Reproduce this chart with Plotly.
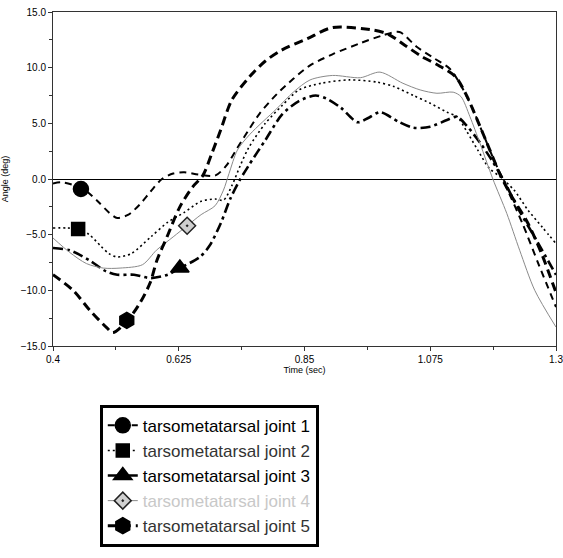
import plotly.graph_objects as go

# ---------------- data ----------------
t1 = [0.40, 0.415, 0.44, 0.46, 0.48, 0.50, 0.515, 0.535, 0.555, 0.575, 0.595, 0.615, 0.635, 0.66, 0.69,
      0.71, 0.73, 0.75, 0.77, 0.80, 0.83, 0.86, 0.90, 0.95, 0.99, 1.02, 1.05, 1.08, 1.11, 1.13, 1.15,
      1.17, 1.19, 1.21, 1.24, 1.27, 1.30]
y1 = [-0.4, -0.3, -0.6, -1.1, -2.0, -3.0, -3.5, -3.2, -2.3, -1.1, 0.0, 0.5, 0.6, 0.4, 0.3,
      1.2, 2.8, 4.4, 5.9, 7.6, 9.0, 10.2, 11.2, 12.2, 12.9, 13.2, 11.9, 10.9, 9.9, 8.4, 6.4,
      4.0, 1.6, -0.6, -4.0, -7.8, -11.5]

t2 = [0.40, 0.425, 0.445, 0.465, 0.485, 0.50, 0.515, 0.54, 0.575, 0.605, 0.635, 0.665, 0.69, 0.705,
      0.72, 0.735, 0.75, 0.78, 0.81, 0.84, 0.88, 0.93, 0.98, 1.01, 1.045, 1.075, 1.105, 1.123, 1.14,
      1.16, 1.18, 1.20, 1.225, 1.25, 1.275, 1.30]
y2 = [-4.4, -4.4, -4.5, -5.0, -6.0, -6.7, -7.0, -6.7, -5.2, -3.9, -3.0, -2.0, -1.8, -1.9,
      -0.6, 1.2, 2.8, 5.0, 6.6, 8.0, 8.6, 8.9, 8.7, 8.3, 7.5, 6.8, 6.0, 5.6, 4.3,
      2.6, 1.0, 0.2, -1.0, -2.8, -4.3, -5.8]

t3 = [0.40, 0.43, 0.465, 0.495, 0.515, 0.545, 0.575, 0.605, 0.627, 0.663, 0.68, 0.70, 0.717, 0.733,
      0.75, 0.78, 0.81, 0.84, 0.87, 0.89, 0.915, 0.945, 0.965, 0.985, 1.02, 1.045, 1.075, 1.105,
      1.123, 1.14, 1.165, 1.185, 1.205, 1.235, 1.265, 1.30]
y3 = [-6.2, -6.4, -7.3, -8.3, -8.6, -8.6, -8.9, -8.6, -8.0, -7.0, -6.0, -4.0, -1.8, -0.2,
      1.2, 3.5, 5.8, 7.0, 7.5, 7.2, 6.4, 5.1, 5.5, 6.0, 5.1, 4.6, 4.7, 5.3,
      5.6, 4.8, 3.2, 1.7, 0.0, -2.9, -5.5, -8.6]

t4 = [0.40, 0.43, 0.46, 0.49, 0.52, 0.56, 0.585, 0.615, 0.64, 0.665, 0.69, 0.705, 0.715, 0.73,
      0.752, 0.80, 0.83, 0.86, 0.90, 0.95, 0.985, 1.026, 1.057, 1.087, 1.116, 1.13, 1.146, 1.164,
      1.187, 1.212, 1.235, 1.262, 1.30]
y4 = [-5.3, -6.6, -7.6, -8.0, -8.0, -7.7, -6.4, -5.2, -4.2, -3.2, -2.4, -1.0, 0.5, 2.6,
      4.0, 6.3, 7.8, 8.9, 9.3, 9.1, 9.6, 8.6, 8.0, 7.7, 7.8, 7.4, 5.6, 3.2,
      0.0, -3.1, -6.4, -10.0, -13.3]

t5 = [0.40, 0.436, 0.466, 0.497, 0.507, 0.532, 0.556, 0.574, 0.586, 0.604, 0.627, 0.65, 0.668, 0.685,
      0.70, 0.72, 0.752, 0.78, 0.81, 0.855, 0.90, 0.97, 1.0, 1.03, 1.06, 1.09, 1.12, 1.14, 1.16,
      1.18, 1.20, 1.22, 1.25, 1.275, 1.30]
y5 = [-8.6, -10.0, -11.8, -13.4, -13.8, -12.8, -11.1, -9.3, -7.3, -5.2, -2.5, -0.7, 0.3, 2.4,
      4.4, 7.1, 9.2, 10.6, 11.6, 12.6, 13.6, 13.4, 13.0, 12.0, 11.0, 10.2, 9.2, 7.5, 5.2,
      2.8, 0.4, -1.5, -4.0, -6.8, -10.2]

marker_t = [0.45, 0.445, 0.627, 0.64, 0.532]
marker_y = [-0.9, -4.5, -8.0, -4.2, -12.7]

series_names = ["tarsometatarsal joint 1", "tarsometatarsal joint 2", "tarsometatarsal joint 3",
                "tarsometatarsal joint 4", "tarsometatarsal joint 5"]

x_tickvals = [0.4, 0.625, 0.85, 1.075, 1.3]
x_ticktext = ["0.4", "0.625", "0.85", "1.075", "1.3"]

# ---------------- styles ----------------
styles = [
    dict(color="black", width=2.0, dash="7px,5px", symbol="circle", msize=15, mcolor="black",
         mline="black", tcolor="#000000"),
    dict(color="black", width=1.6, dash="2px,3px", symbol="square", msize=13, mcolor="black",
         mline="black", tcolor="#333333"),
    dict(color="black", width=2.6, dash="10px,4px,3px,4px", symbol="triangle-up", msize=16,
         mcolor="black", mline="black", tcolor="#000000"),
    dict(color="#8a8a8a", width=1.0, dash="solid", symbol="diamond-dot", msize=13, mcolor="#d0d0d0",
         mline="#222222", tcolor="#c8c8c8"),
    dict(color="black", width=3.0, dash="9px,5px", symbol="hexagon", msize=16, mcolor="black",
         mline="black", tcolor="#333333"),
]

ts = [t1, t2, t3, t4, t5]
ys = [y1, y2, y3, y4, y5]

fig = go.Figure()
for i in range(5):
    s = styles[i]
    fig.add_trace(go.Scatter(
        x=ts[i], y=ys[i], mode="lines", showlegend=False, legendgroup=f"g{i}",
        line=dict(color=s["color"], width=s["width"], dash=s["dash"], shape="spline", smoothing=0.8),
        hoverinfo="skip",
    ))
for i in range(5):
    s = styles[i]
    fig.add_trace(go.Scatter(
        x=[marker_t[i]], y=[marker_y[i]], mode="lines+markers", legendgroup=f"g{i}",
        name=f"<span style='color:{s['tcolor']}'>{series_names[i]}</span>",
        line=dict(color=s["color"], width=s["width"], dash=s["dash"]),
        marker=dict(symbol=s["symbol"], size=s["msize"], color=s["mcolor"],
                    line=dict(color=s["mline"], width=1.5)),
    ))

font_axis = "Liberation Sans Narrow, Liberation Sans, Arial, sans-serif"

fig.update_layout(
    width=563, height=558,
    margin=dict(l=53, r=7, t=12, b=212),
    paper_bgcolor="white", plot_bgcolor="white",
    font=dict(family=font_axis, color="black", size=10),
    showlegend=True,
    legend=dict(
        x=0.093, y=-0.176, xanchor="left", yanchor="top",
        bordercolor="black", borderwidth=3, bgcolor="white",
        font=dict(family="Liberation Sans, Arial, sans-serif", size=17, color="black"),
        tracegroupgap=0, itemwidth=30,
    ),
    xaxis=dict(
        range=[0.4, 1.3], tickvals=x_tickvals, ticktext=x_ticktext, automargin=False,
        ticklabeloverflow="allow",
        showgrid=False, zeroline=False, showline=True, linecolor="#333", linewidth=1, mirror=True,
        ticks="outside", ticklen=4, tickcolor="#333",
        minor=dict(tickvals=[0.5125, 0.7375, 0.9625, 1.1875], ticks="outside", ticklen=3, tickcolor="#333"),
        title=dict(text="Time (sec)", font=dict(size=9), standoff=2),
        tickfont=dict(size=10),
    ),
    yaxis=dict(
        range=[-15, 15], dtick=5, tick0=0, tickformat=".1f", automargin=False,
        ticklabeloverflow="allow",
        showgrid=False, zeroline=True, zerolinecolor="black", zerolinewidth=1,
        showline=True, linecolor="#333", linewidth=1, mirror=True,
        ticks="outside", ticklen=4, tickcolor="#333",
        minor=dict(dtick=2.5, ticks="outside", ticklen=3, tickcolor="#333"),
        title=dict(text="Angle (deg)", font=dict(size=9), standoff=10),
        tickfont=dict(size=10),
    ),
)

# remove the browser's default 8px body margin so the figure sits at (0, 0)
fig.write_html("out.html", config={"displayModeBar": False},
               post_script="document.body.style.margin='0';document.body.style.overflow='hidden';")
